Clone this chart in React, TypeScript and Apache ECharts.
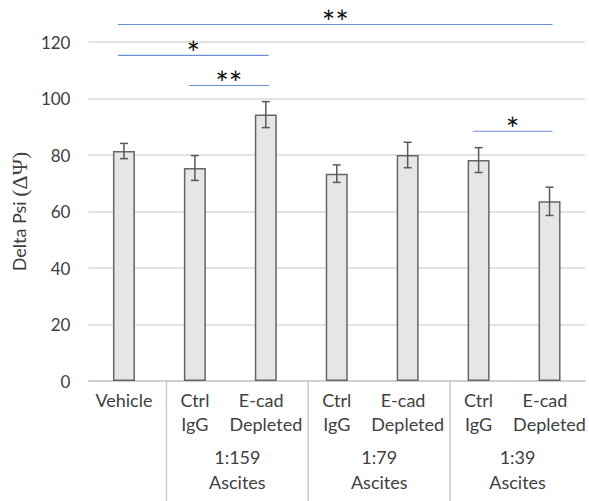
import React, { useEffect, useRef } from "react";
import * as echarts from "echarts";

const categories = ["Vehicle", "Ctrl IgG 1:159", "E-cad Depleted 1:159", "Ctrl IgG 1:79", "E-cad Depleted 1:79", "Ctrl IgG 1:39", "E-cad Depleted 1:39"];
const tickLabels = ["Vehicle", "Ctrl\nIgG", "E-cad  \nDepleted", "Ctrl\nIgG", "E-cad  \nDepleted", "Ctrl\nIgG", "E-cad  \nDepleted"];
const means = [81.4, 75.4, 94.3, 73.4, 80.0, 78.2, 63.6];
const errors = [2.7, 4.4, 4.6, 3.1, 4.5, 4.4, 5.0];
const yTicks = [0, 20, 40, 60, 80, 100, 120];

const sigFrom = [0, 0, 1, 5];
const sigTo = [6, 2, 2, 6];
const sigLevel = [126.2, 115.3, 104.6, 88.4];
const sigLabels = ["**", "*", "**", "*"];

const groupLabels = ["1:159\nAscites", "1:79\nAscites", "1:39\nAscites"];
const groupStart = [1, 3, 5];

const FONT = "Lato";
const TEXT = "#404040";

export default function App() {
  const ref = useRef<HTMLDivElement>(null);
  useEffect(() => {
    document.body.style.margin = "0";
    const chart = echarts.init(ref.current!, null, { renderer: "svg" });
    const option: any = {
      animation: false,
      backgroundColor: "#ffffff",
      textStyle: { fontFamily: FONT },
      grid: { left: 86, right: 4, top: 42, bottom: 120, containLabel: false },
      xAxis: {
        type: "category",
        data: categories,
        axisLine: { show: true, lineStyle: { color: "#c8c8c8", width: 1.5 } },
        axisTick: { show: false },
        axisLabel: {
          interval: 0,
          fontFamily: FONT,
          fontSize: 18,
          color: TEXT,
          margin: 7,
          lineHeight: 24,
          verticalAlign: "top",
          formatter: (_v: string, i: number) => tickLabels[i],
        },
      },
      yAxis: {
        type: "value",
        min: yTicks[0],
        max: yTicks[yTicks.length - 1],
        interval: 20,
        name: "Delta Psi {g|(ΔΨ)}",
        nameLocation: "middle",
        nameRotate: 90,
        nameGap: 52,
        nameTextStyle: {
          fontFamily: FONT,
          fontSize: 18,
          color: TEXT,
          rich: { g: { fontFamily: "Liberation Serif", fontSize: 22, color: TEXT } },
        },
        axisLine: { show: false },
        axisTick: { show: false },
        axisLabel: { fontFamily: FONT, fontSize: 17, color: TEXT, margin: 18 },
        splitLine: { lineStyle: { color: "#d9d9d9", width: 1.5 } },
      },
      series: [
        {
          type: "bar",
          data: means,
          barWidth: 22,
          itemStyle: { color: "#e6e6e6", borderColor: "#666666", borderWidth: 1.5 },
          z: 2,
        },
        {
          type: "custom",
          data: means.map((m, i) => [i, m, errors[i]]),
          z: 3,
          renderItem: (_p: any, api: any) => {
            const x = api.value(0);
            const m = api.value(1);
            const e = api.value(2);
            const t = api.coord([x, m + e]);
            const b = api.coord([x, m - e]);
            const st = { stroke: "#595959", lineWidth: 1.5 };
            return {
              type: "group",
              children: [
                { type: "line", shape: { x1: t[0], y1: t[1], x2: b[0], y2: b[1] }, style: st },
                { type: "line", shape: { x1: t[0] - 4, y1: t[1], x2: t[0] + 4, y2: t[1] }, style: st },
                { type: "line", shape: { x1: b[0] - 4, y1: b[1], x2: b[0] + 4, y2: b[1] }, style: st },
              ],
            };
          },
        },
        {
          type: "custom",
          data: sigFrom.map((f, i) => [f, sigTo[i], sigLevel[i]]),
          z: 4,
          clip: false,
          renderItem: (p: any, api: any) => {
            const a = api.coord([api.value(0), api.value(2)]);
            const b = api.coord([api.value(1), api.value(2)]);
            const x1 = a[0] - 6;
            const x2 = b[0] + 3;
            return {
              type: "group",
              children: [
                { type: "line", shape: { x1, y1: a[1], x2, y2: a[1] }, style: { stroke: "#6a8fd4", lineWidth: 1.2 } },
                {
                  type: "text",
                  x: (x1 + x2) / 2,
                  y: a[1] + 13,
                  style: {
                    text: sigLabels[p.dataIndex],
                    fontFamily: FONT,
                    fontSize: 32,
                    fill: "#111111",
                    align: "center",
                    verticalAlign: "bottom",
                  },
                },
              ],
            };
          },
        },
      ],
    };
    chart.setOption(option);

    const px = (i: number) => chart.convertToPixel({ xAxisIndex: 0 }, i) as number;
    const axisY = chart.convertToPixel({ yAxisIndex: 0 }, 0) as number;
    const rightEdge = 589 - 4;
    const seps = groupStart.map((s) => (px(s - 1) + px(s)) / 2 + 7);
    const graphics: any[] = [];
    seps.forEach((x) => {
      graphics.push({
        type: "line",
        shape: { x1: x, y1: axisY, x2: x, y2: 501 },
        style: { stroke: "#c8c8c8", lineWidth: 1.5 },
        silent: true,
      });
    });
    groupLabels.forEach((g, i) => {
      const left = seps[i];
      const right = i + 1 < seps.length ? seps[i + 1] : rightEdge;
      graphics.push({
        type: "text",
        x: (left + right) / 2,
        y: axisY + 88,
        style: {
          text: g,
          fontFamily: FONT,
          fontSize: 18,
          lineHeight: 25,
          fill: TEXT,
          align: "center",
          verticalAlign: "middle",
        },
        silent: true,
      });
    });
    chart.setOption({ graphic: graphics });
    return () => chart.dispose();
  }, []);
  return <div ref={ref} style={{ width: 589, height: 501 }} />;
}
